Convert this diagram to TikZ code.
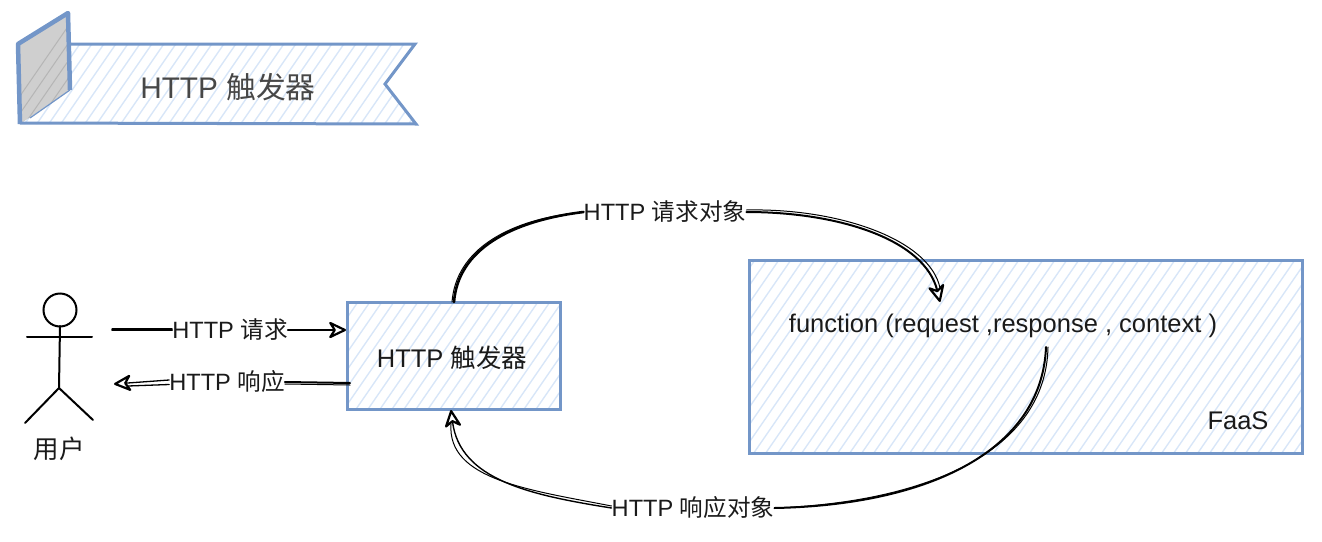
\documentclass[tikz,border=0pt]{standalone}
\usepackage{fontspec}
\setmainfont{Liberation Sans}
\newfontfamily\cjk{Noto Sans CJK SC}
\usetikzlibrary{arrows.meta}
\definecolor{edgeblue}{HTML}{7396C8}
\definecolor{hatchblue}{HTML}{D8E6F8}
\definecolor{inkgrey}{HTML}{1A1A1A}
\tikzset{
  x=1pt,y=-1pt,
  edgeline/.style={draw=edgeblue,line width=3pt,line join=miter,outer sep=0pt},
  hatchline/.style={hatchblue,line width=1.4pt},
  lab/.style={inner sep=0pt,text=inkgrey,font=\fontsize{23.6}{25}\selectfont},
  boxtext/.style={inner sep=0pt,text=inkgrey,font=\fontsize{25.5}{27}\selectfont},
  inkthick/.style={draw=black,line width=2pt,line cap=round},
  inkthin/.style={draw=black,line width=1pt,line cap=round},
  tip/.style={-{Stealth[open,round,length=20pt,width=19pt,inset=6pt,line width=2.2pt]}},
  person/.style={draw=black,line width=2pt,line cap=round}
}
\begin{document}
\begin{tikzpicture}
\useasboundingbox (0,0) rectangle (1322,541);
% banner
\begin{scope}\clip (68,44) -- (415,44) -- (385,84) -- (416,124) -- (20,124) -- cycle;
  \foreach \hx in {-300,-288,...,420}{\draw[hatchline] (\hx,560) -- ++(400,-580);}
\end{scope}
\fill[gray!38] (18,44) -- (68,13) -- (70,90) -- (20,124) -- cycle;
\begin{scope}\clip (18,44) -- (68,13) -- (70,90) -- (20,124) -- cycle;
  \foreach \hx in {-300,-288,...,420}{\draw[gray!58,line width=1pt] (\hx,560) -- ++(400,-580);}
\end{scope}
\draw[edgeblue,line width=3pt] (69,44) -- (415,44) -- (385,84) -- (416,124) -- (20,123);
\draw[edgeblue,line width=4.5pt,line join=round] (20,124) -- (18,44) -- (68,13) -- (70,90);
\draw[edgeblue,line width=1.2pt] (70,90) -- (30,118);
\node[inner sep=0pt,text=black!72,font=\fontsize{29.8}{31}\selectfont] (title) at (228,87) {HTTP {\cjk 触发器}};
% trigger box
\begin{scope}\clip (347,302) rectangle (560,409);
  \foreach \hx in {-300,-288,...,700}{\draw[hatchline] (\hx,560) -- ++(400,-580);}
\end{scope}
\node[edgeline,minimum width=213pt,minimum height=107pt,inner sep=0pt,anchor=north west] (trigger) at (347,302) {};
\node[boxtext] (triggertext) at (452,358) {HTTP {\cjk 触发器}};
% faas box
\begin{scope}\clip (749,260) rectangle (1302,453);
  \foreach \hx in {200,212,...,1400}{\draw[hatchline] (\hx,560) -- ++(400,-580);}
\end{scope}
\node[edgeline,minimum width=553pt,minimum height=193pt,inner sep=0pt,anchor=north west] (faas) at (749,260) {};
\node[boxtext] (fn) at (1003,326) {function (request ,response , context )};
\node[boxtext] (faaslabel) at (1238,421) {FaaS};
% person
\draw[person] (60,310) circle[radius=16.5pt];
\draw[person] (27,337) -- (92,337);
\draw[person] (60,326) -- (59,388);
\draw[person] (59,388) -- (25,423);
\draw[person] (59,388) -- (93,420);
\node[boxtext] (user) at (59,449) {\cjk 用户};
% labels
\node[lab] (reqlab) at (230,330) {HTTP {\cjk 请求}};
\node[lab] (resplab) at (227,382) {HTTP {\cjk 响应}};
\node[lab] (reqobj) at (665,212) {HTTP {\cjk 请求对象}};
\node[lab] (respobj) at (693,508) {HTTP {\cjk 响应对象}};
% helper end points
\coordinate (ustart) at (112,330);
\coordinate (uend) at (114,384);
\coordinate (treq) at (346,330);
\coordinate (tresp) at (350,383);
\coordinate (tup) at (454,302);
\coordinate (fntip) at (940,302);
\coordinate (fnout) at (1046,347);
\coordinate (tdown) at (451,410);
% request
\draw[inkthick] (ustart) -- (reqlab.west);
\draw[inkthin] ([yshift=2pt]ustart) -- ([yshift=2pt]reqlab.west);
\draw[inkthick,tip] (reqlab.east) -- (treq);
% response
\draw[inkthick] (tresp) -- (resplab.east);
\draw[inkthin] ([yshift=-2pt]tresp) -- ([yshift=-2pt]resplab.east);
\draw[inkthin,line width=1.3pt,tip] ([yshift=2pt]resplab.west) -- (uend);
\draw[inkthin,line width=1.3pt] ([yshift=-2.5pt]resplab.west) -- ([yshift=-2pt,xshift=14pt]uend);
% request object
\draw[inkthick,line width=2.6pt] (tup) .. controls (458,250) and (510,221) .. (reqobj.west);
\draw[inkthin] ([xshift=-2pt]tup) .. controls (456,250) and (508,219) .. (reqobj.west);
\draw[inkthick,tip] (reqobj.east) .. controls (840,212) and (925,240) .. (fntip);
\draw[inkthin] ([yshift=2pt]reqobj.east) .. controls (840,208) and (930,240) .. ([yshift=14pt]fntip);
% response object
\draw[inkthick] (fnout) .. controls (1042,450) and (930,505) .. (respobj.east);
\draw[inkthin] ([xshift=2pt]fnout) .. controls (1046,450) and (930,502) .. (respobj.east);
\draw[inkthick,line width=1.4pt,tip] (respobj.west) .. controls (530,495) and (460,480) .. (tdown);
\draw[inkthin] ([yshift=2pt]respobj.west) .. controls (530,490) and (447,480) .. ([yshift=-14pt]tdown);
\end{tikzpicture}
\end{document}
